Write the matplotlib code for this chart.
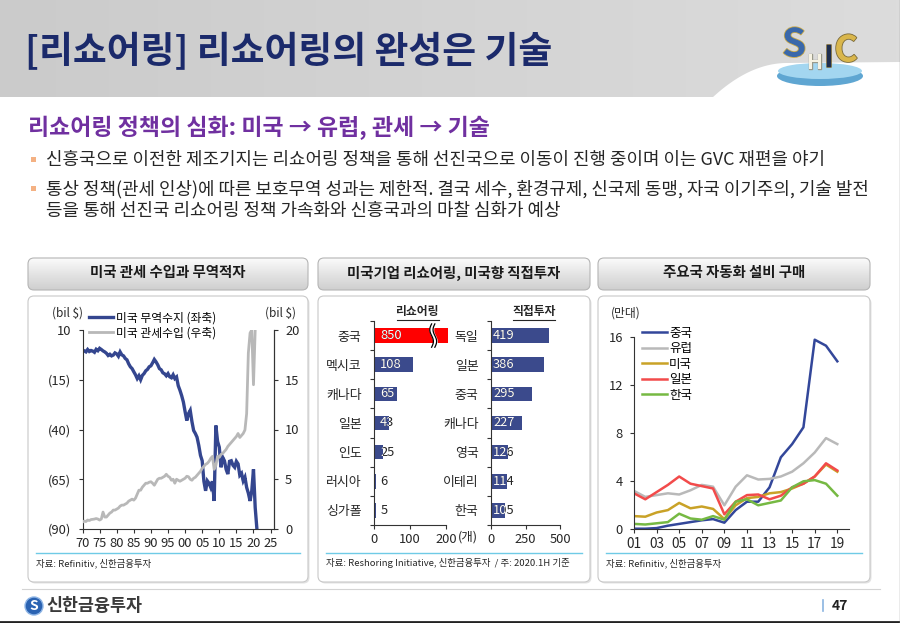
import matplotlib
matplotlib.use("Agg")
import matplotlib.pyplot as plt
import matplotlib.patheffects as pe
import numpy as np
from matplotlib.patches import FancyBboxPatch, Rectangle, Ellipse, Circle, Polygon
from matplotlib.lines import Line2D
from matplotlib.colors import LinearSegmentedColormap

plt.rcParams['font.family'] = ['Noto Sans CJK KR', 'DejaVu Sans']

W, H = 900, 623

# ---------------- data ----------------
# panel 1: US trade balance (left axis, bil $) and tariff revenue (right axis, bil $), half-year reads
tb_years = np.arange(1970, 2021.01, 0.5)
trade_balance = [
    0.0, -0.5, -1.0, 0.2, -0.8, -0.3, -0.6, -1.2, 0.3, -0.4,
    0.8, 0.2, -0.5, -1.0, -1.7, -2.8, -2.2, -3.0, -2.6, -1.5,
    -2.0, -3.2, -1.0, -2.5, -3.0, -4.3, -5.0, -7.0, -8.5, -9.4,
    -11.0, -12.5, -14.4, -13.0, -15.0, -12.8, -11.9, -10.5, -9.8, -8.5,
    -8.0, -6.5, -4.8, -6.0, -7.5, -9.4, -10.0, -11.5, -12.0, -13.0,
    -11.9, -13.5, -14.0, -12.5, -14.4, -13.6, -18.0, -20.3, -23.0, -26.2,
    -31.0, -35.5, -32.0, -30.4, -36.0, -40.5, -42.0, -43.9, -48.0, -53.0,
    -55.7, -66.0, -70.8, -65.8, -67.0, -69.1, -66.0, -75.9, -38.0, -46.0,
    -48.9, -59.0, -54.0, -55.7, -60.0, -62.4, -56.0, -55.7, -58.0, -59.0,
    -56.0, -57.3, -63.0, -62.0, -65.8, -64.0, -69.1, -72.0, -75.9, -70.8,
    -60.0, -79.2, -90.0,
]
tariff_years = np.arange(1970, 2020.51, 0.5)
tariff_revenue = [
    0.7, 0.8, 0.75, 0.9, 0.85, 0.95, 0.97, 1.0, 1.05, 1.0,
    0.9, 1.0, 1.7, 1.2, 1.2, 1.4, 1.6, 1.7, 1.9, 1.9,
    2.0, 2.1, 2.3, 2.4, 2.4, 2.5, 2.6, 2.8, 2.9, 3.0,
    2.9, 3.1, 3.5, 3.9, 3.9, 4.2, 4.4, 4.6, 4.6, 4.7,
    4.75, 4.6, 4.4, 4.7, 5.0, 5.1, 5.1, 5.2, 5.3, 5.5,
    5.3, 5.2, 4.9, 5.0, 4.6, 5.0, 4.9, 4.8, 4.9, 5.0,
    5.1, 5.3, 5.25, 5.0, 4.9, 5.1, 5.2, 5.4, 5.6, 5.8,
    6.1, 6.3, 6.5, 6.6, 6.8, 7.1, 7.3, 6.0, 6.4, 7.3,
    7.2, 7.5, 7.6, 7.8, 8.0, 8.3, 8.5, 8.7, 8.9, 9.1,
    9.3, 9.6, 9.2, 9.4, 9.6, 9.95, 11.6, 17.7, 19.7, 20.0,
    14.5, 20.0,
]

# panel 2: reshoring count and FDI into US
reshoring_countries = ["중국", "멕시코", "캐나다", "일본", "인도", "러시아", "싱가폴"]
reshoring_counts = [850, 108, 65, 43, 25, 6, 5]
fdi_countries = ["독일", "일본", "중국", "캐나다", "영국", "이테리", "한국"]
fdi_counts = [419, 386, 295, 227, 126, 114, 105]

# panel 3: automation equipment purchases (만대)
robot_years = list(range(2001, 2020))
robot_china = [0.05, 0.05, 0.1, 0.3, 0.45, 0.6, 0.75, 0.85, 0.55, 1.6, 2.3, 2.3, 3.5, 6.0, 7.1, 8.5, 15.8, 15.3, 14.0]
robot_europe = [3.2, 2.7, 2.85, 3.0, 2.9, 3.25, 3.7, 3.55, 2.0, 3.55, 4.5, 4.15, 4.2, 4.4, 4.8, 5.5, 6.4, 7.6, 7.1]
robot_usa = [1.1, 1.05, 1.4, 1.6, 2.2, 1.75, 1.9, 1.7, 0.85, 2.0, 2.6, 2.7, 3.0, 3.1, 3.4, 3.8, 4.4, 5.4, 4.8]
robot_japan = [3.0, 2.5, 3.1, 3.7, 4.4, 3.8, 3.6, 3.4, 1.25, 2.3, 2.85, 2.9, 2.5, 2.8, 3.5, 3.8, 4.4, 5.5, 4.9]
robot_korea = [0.45, 0.4, 0.5, 0.6, 1.3, 0.9, 0.8, 1.1, 0.8, 2.3, 2.5, 2.0, 2.2, 2.4, 3.5, 4.0, 4.1, 3.8, 2.8]
robot_labels = ["중국", "유럽", "미국", "일본", "한국"]

NAVY = "#34468f"
TXT = "#262626"
AX = "#333333"

fig = plt.figure(figsize=(W / 100, H / 100), dpi=100)


def px_axes(x0, y0, x1, y1, **kw):
    return fig.add_axes([x0 / W, 1 - y1 / H, (x1 - x0) / W, (y1 - y0) / H], **kw)


# ---------------- background / slide decor ----------------
bg = fig.add_axes([0, 0, 1, 1], zorder=0)
bg.axis("off")

hdr = LinearSegmentedColormap.from_list("hdr", ["#cbcbcb", "#dcdcdc"])
bg.imshow(np.linspace(0, 1, 256).reshape(1, -1), extent=(0, W, 97, 0), cmap=hdr, aspect="auto", zorder=0)
wx = np.linspace(0, 1, 40)
wave = [(712 + 75 * t, 98 - 35 * (1 - (1 - t) ** 2)) for t in wx] + [(900, 62), (900, 98)]
bg.add_patch(Polygon(wave, closed=True, fc="white", ec="none", zorder=1))

bg.text(25, 52, "[리쇼어링] 리쇼어링의 완성은 기술", fontsize=26.5, fontweight="bold",
        color="#1b2a6b", va="center", ha="left", zorder=3)

# SHIC logo
bg.add_patch(Ellipse((820, 76), 86, 20, fc="#5fa6d2", ec="none", zorder=2))
bg.add_patch(Ellipse((820, 71), 84, 16, fc="#a3d6f0", ec="none", zorder=2))
edge = [pe.withStroke(linewidth=1.2, foreground="#7a6a3a")]
bg.text(794, 45, "S", fontsize=28, fontweight="bold", color="#3a68aa", ha="center", va="center", zorder=3,
        path_effects=[pe.withStroke(linewidth=1.2, foreground="#c9a94a")])
bg.text(815, 63, "H", fontsize=14, fontweight="bold", color="#f6f2e2", ha="center", va="center", zorder=3,
        path_effects=[pe.withStroke(linewidth=1, foreground="#9a9a8a")])
bg.text(829, 58, "I", fontsize=21, fontweight="bold", color="#1f2f4f", ha="center", va="center", zorder=3,
        path_effects=edge)
bg.text(846, 51, "C", fontsize=26, fontweight="bold", color="#d9b64c", ha="center", va="center", zorder=3,
        path_effects=edge)

bg.text(28, 128, "리쇼어링 정책의 심화: 미국 → 유럽, 관세 → 기술", fontsize=16.5, fontweight="bold",
        color="#7030a0", va="center", ha="left")

bullets = [
    (160, "신흥국으로 이전한 제조기지는 리쇼어링 정책을 통해 선진국으로 이동이 진행 중이며 이는 GVC 재편을 야기", True),
    (189, "통상 정책(관세 인상)에 따른 보호무역 성과는 제한적. 결국 세수, 환경규제, 신국제 동맹, 자국 이기주의, 기술 발전", True),
    (211, "등을 통해 선진국 리쇼어링 정책 가속화와 신흥국과의 마찰 심화가 예상", False),
]
for y, s, mark in bullets:
    if mark:
        bg.add_patch(Rectangle((30.5, y - 3), 5, 5, fc="#f4b183", ec="none"))
    bg.text(46, y, s, fontsize=12.9, color=TXT, va="center", ha="left")

panels = [(28, 308, "미국 관세 수입과 무역적자", "자료: Refinitiv, 신한금융투자"),
          (318, 590, "미국기업 리쇼어링, 미국향 직접투자",
           "자료: Reshoring Initiative, 신한금융투자  / 주: 2020.1H 기준"),
          (598, 870, "주요국 자동화 설비 구매", "자료: Refinitiv, 신한금융투자")]
btn = LinearSegmentedColormap.from_list("btn", ["#fbfbfb", "#e4e4e4", "#cfcfcf"])
for x0, x1, title, src in panels:
    box = FancyBboxPatch((x0, 258), x1 - x0, 32, boxstyle="round,pad=0,rounding_size=6",
                         fc="none", ec="#b5b5b5", lw=0.8, zorder=3)
    bg.add_patch(box)
    im = bg.imshow(np.linspace(0, 1, 64).reshape(-1, 1), extent=(x0, x1, 290, 258), cmap=btn,
                   aspect="auto", zorder=2)
    im.set_clip_path(box)
    bg.text((x0 + x1) / 2, 273.5, title, fontsize=10.4, fontweight="bold", color="#1a1a1a",
            ha="center", va="center", zorder=4)
    bg.add_patch(FancyBboxPatch((x0 + 1.5, 297.5), x1 - x0, 286, boxstyle="round,pad=0,rounding_size=6",
                                fc="#e2e2e2", ec="none", zorder=1))
    bg.add_patch(FancyBboxPatch((x0, 296), x1 - x0, 286, boxstyle="round,pad=0,rounding_size=6",
                                fc="white", ec="#c9c9c9", lw=0.8, zorder=2))
    bg.plot([x0 + 8, x1 - 8], [553, 553], color="#6fcbe6", lw=1, zorder=3)
    bg.text(x0 + 8, 563, src, fontsize=6.8, color=TXT, ha="left", va="center", zorder=3)

# footer
bg.plot([22, 880], [589, 589], color="#d4d4d4", lw=0.8)
bg.add_patch(Circle((34, 606), 9, fc="#2b63b2", ec="#8fb6e6", lw=1))
bg.text(34, 606, "S", fontsize=10, fontweight="bold", color="white", ha="center", va="center")
bg.text(46, 606, "신한금융투자", fontsize=12.5, fontweight="bold", color="#3a3a3a", ha="left", va="center")
bg.plot([823, 823], [600, 611], color="#8ab4e0", lw=1.2)
bg.text(840, 606, "47", fontsize=10, fontweight="bold", color="#222222", ha="center", va="center")
bg.plot([0, W], [622, 622], color="#222222", lw=2)
bg.plot([899.5, 899.5], [0, H], color="#9a9a9a", lw=1)

# chart units / headings
bg.text(52, 313, "(bil $)", fontsize=8.5, color=TXT, va="center", ha="left", zorder=5)
bg.text(265, 313, "(bil $)", fontsize=8.5, color=TXT, va="center", ha="left", zorder=5)
bg.text(418, 312, "리쇼어링", fontsize=8.5, fontweight="bold", color=TXT, ha="center", va="center", zorder=5)
bg.text(534, 312, "직접투자", fontsize=8.5, fontweight="bold", color=TXT, ha="center", va="center", zorder=5)
bg.plot([397, 439], [319.5, 319.5], color=TXT, lw=0.8, zorder=5)
bg.plot([513, 555], [319.5, 319.5], color=TXT, lw=0.8, zorder=5)
bg.text(468, 537, "(개)", fontsize=9, color=TXT, ha="center", va="center", zorder=5)
bg.text(611, 313, "(만대)", fontsize=8.5, color=TXT, ha="left", va="center", zorder=5)

bg.set_xlim(0, W)
bg.set_ylim(H, 0)


def style(ax, spines=("left", "bottom")):
    for k, sp in ax.spines.items():
        sp.set_visible(k in spines)
        sp.set_color(AX)
        sp.set_linewidth(0.8)
    ax.patch.set_alpha(0)
    ax.tick_params(direction="out", length=3, width=0.8, color=AX, labelsize=9.3, labelcolor=TXT, pad=2.5)


# ---------------- panel 1 ----------------
ax1 = px_axes(82.5, 330, 274, 529, zorder=2)
ax1.plot(tb_years, trade_balance, color=NAVY, lw=2.4, solid_joinstyle="miter")
ax1.set_xlim(1970, 2026)
ax1.set_ylim(-90, 10)
ax1.set_yticks([10, -15, -40, -65, -90], ["10", "(15)", "(40)", "(65)", "(90)"])
ax1.set_xticks(range(1970, 2026, 5), [f"{y % 100:02d}" for y in range(1970, 2026, 5)])
style(ax1, ("left", "bottom", "right"))
ax1.tick_params(axis="y", pad=5)

ax1r = ax1.twinx()
ax1r.plot(tariff_years, tariff_revenue, color="#b8b8b8", lw=2)
ax1r.set_ylim(0, 20)
ax1r.set_yticks(range(0, 21, 5))
style(ax1r, ("right",))
ax1r.tick_params(axis="y", pad=5)
ax1r.legend(handles=[Line2D([], [], color=NAVY, lw=2.4), Line2D([], [], color="#b8b8b8", lw=2)],
            labels=["미국 무역수지 (좌축)", "미국 관세수입 (우축)"], loc="upper left",
            bbox_to_anchor=(0.035, 1.095), frameon=False, fontsize=8.5, handlelength=2.0,
            handletextpad=0.25, labelspacing=0.2, borderpad=0, borderaxespad=0)

# ---------------- panel 2 ----------------
def bar_panel(box, cats, vals, xmax, ticks, dx):
    ax = px_axes(*box, zorder=2)
    colors = ["#ff0000" if v > xmax else "#3b4a8c" for v in vals]
    bars = ax.barh(range(len(cats)), [min(v, xmax * 1.025) for v in vals], height=0.5,
                   color=colors, clip_on=False)
    ax.set_ylim(len(cats) - 0.5, -0.5)
    ax.set_xlim(0, xmax)
    ax.set_xticks(ticks)
    ax.set_yticks(range(len(cats)), cats)
    ax.set_yticks(np.arange(-0.5, len(cats), 1), minor=True)
    style(ax)
    ax.tick_params(axis="y", which="major", length=0, pad=9)
    ax.tick_params(axis="y", which="minor", length=3, width=0.8, color=AX, direction="out")
    for bar, v in zip(bars, vals):
        yc = bar.get_y() + bar.get_height() / 2
        ax.annotate(str(v), (0, yc), xytext=(dx, 0), textcoords="offset points", va="center",
                    ha="left", fontsize=9.3, color=TXT, zorder=4, annotation_clip=False)
        t = ax.annotate(str(v), (0, yc), xytext=(dx, 0), textcoords="offset points", va="center",
                        ha="left", fontsize=9.3, color="white", zorder=5, annotation_clip=False)
        t.set_clip_path(bar)
    return ax, bars


axL, barsL = bar_panel((374, 321, 446, 525), reshoring_countries, reshoring_counts, 200, [0, 100, 200], 4.5)
# axis break on the clipped China bar
yy = np.linspace(-0.4, 0.4, 40)
xa = 160 + 5 * np.sin(yy / 0.4 * np.pi)
axL.fill_betweenx(yy, xa, xa + 9, color="white", zorder=3, clip_on=False)
axL.plot(xa, yy, color="black", lw=0.9, zorder=3, clip_on=False)
axL.plot(xa + 9, yy, color="black", lw=0.9, zorder=3, clip_on=False)

axR, barsR = bar_panel((491, 321, 560, 525), fdi_countries, fdi_counts, 500, [0, 250, 500], 1.5)

# ---------------- panel 3 ----------------
ax3 = px_axes(634, 337.3, 848.6, 529.3, zorder=2)
robot_series = [robot_china, robot_europe, robot_usa, robot_japan, robot_korea]
robot_colors = ["#33479a", "#b9b9b9", "#c9a227", "#f24b4b", "#76b943"]
for vals, c, lab in zip(robot_series, robot_colors, robot_labels):
    ax3.plot(robot_years, vals, color=c, lw=1.8, label=lab, solid_joinstyle="round")
ax3.set_xlim(2001, 2020)
ax3.set_ylim(0, 16)
ax3.set_yticks(range(0, 17, 4))
ax3.set_xticks(range(2001, 2020, 2), [f"{y % 100:02d}" for y in range(2001, 2020, 2)])
style(ax3)
ax3.tick_params(axis="y", pad=5)
ax3.tick_params(axis="x", labelsize=9.8)
ax3.legend(loc="upper left", bbox_to_anchor=(0.035, 1.055), frameon=False, fontsize=9,
           handlelength=2.0, handletextpad=0.2, labelspacing=0.2, borderpad=0, borderaxespad=0)

fig.savefig("out.png", dpi=100)
